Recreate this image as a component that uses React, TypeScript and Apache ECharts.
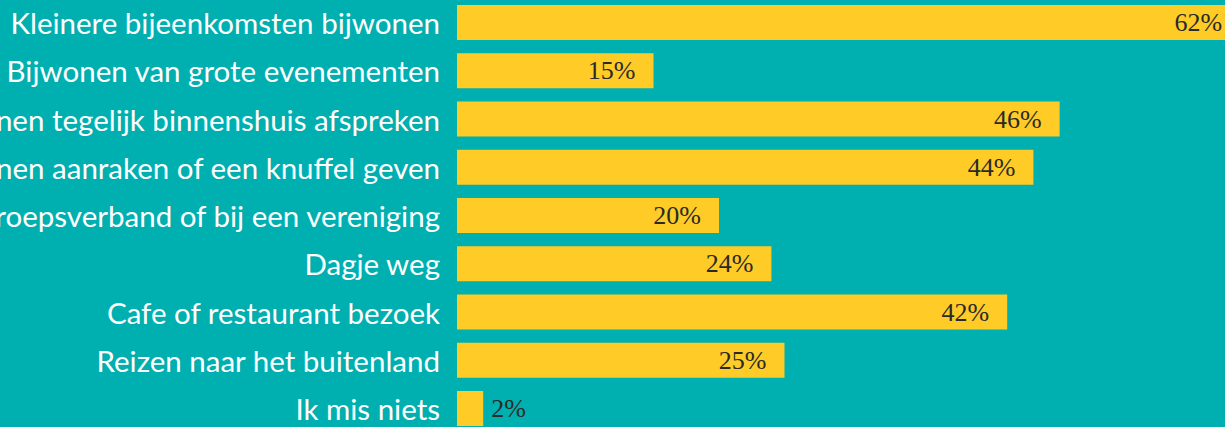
import React, { useEffect, useRef } from "react";
import * as echarts from "echarts";

const categories = [
  "Kleinere bijeenkomsten bijwonen",
  "Bijwonen van grote evenementen",
  "Met meerdere personen tegelijk binnenshuis afspreken",
  "Andere personen aanraken of een knuffel geven",
  "Sporten in groepsverband of bij een vereniging",
  "Dagje weg",
  "Cafe of restaurant bezoek",
  "Reizen naar het buitenland",
  "Ik mis niets",
];
const values = [62, 15, 46, 44, 20, 24, 42, 25, 2];

const BG = "#00AFAF";
const BAR = "#FFCB27";

export default function App() {
  const ref = useRef<HTMLDivElement>(null);
  useEffect(() => {
    if (!ref.current) return;
    const chart = echarts.init(ref.current, null, { renderer: "svg" });
    const data = values.map((v, i) => {
      const item: any = { value: v };
      if (v < 5) {
        item.label = { position: "right", distance: 8 };
      } else if (i === 0) {
        item.label = { offset: [-29, 0] };
      }
      return item;
    });
    chart.setOption({
      animation: false,
      backgroundColor: BG,
      grid: {
        left: 457,
        top: -1.6,
        height: 434.25,
        width: 1310,
        containLabel: false,
        outerBoundsMode: "none",
      },
      xAxis: {
        type: "value",
        min: 0,
        max: 100,
        show: false,
        splitLine: { show: false },
      },
      yAxis: {
        type: "category",
        data: categories,
        inverse: true,
        axisLine: { show: false },
        axisTick: { show: false },
        axisLabel: {
          color: "#FFFFFF",
          fontFamily: "Lato",
          fontSize: 29.5,
          margin: 17,
          align: "right",
        },
      },
      series: [
        {
          type: "bar",
          data,
          barWidth: 35,
          itemStyle: { color: BAR },
          label: {
            show: true,
            position: "insideRight",
            distance: 18,
            formatter: "{c}%",
            color: "#2A2A2A",
            fontFamily: "Liberation Serif",
            fontSize: 26,
          },
        },
      ],
    });
    return () => chart.dispose();
  }, []);
  return (
    <div
      ref={ref}
      style={{ position: "fixed", left: 0, top: 0, width: 1225, height: 427 }}
    />
  );
}
